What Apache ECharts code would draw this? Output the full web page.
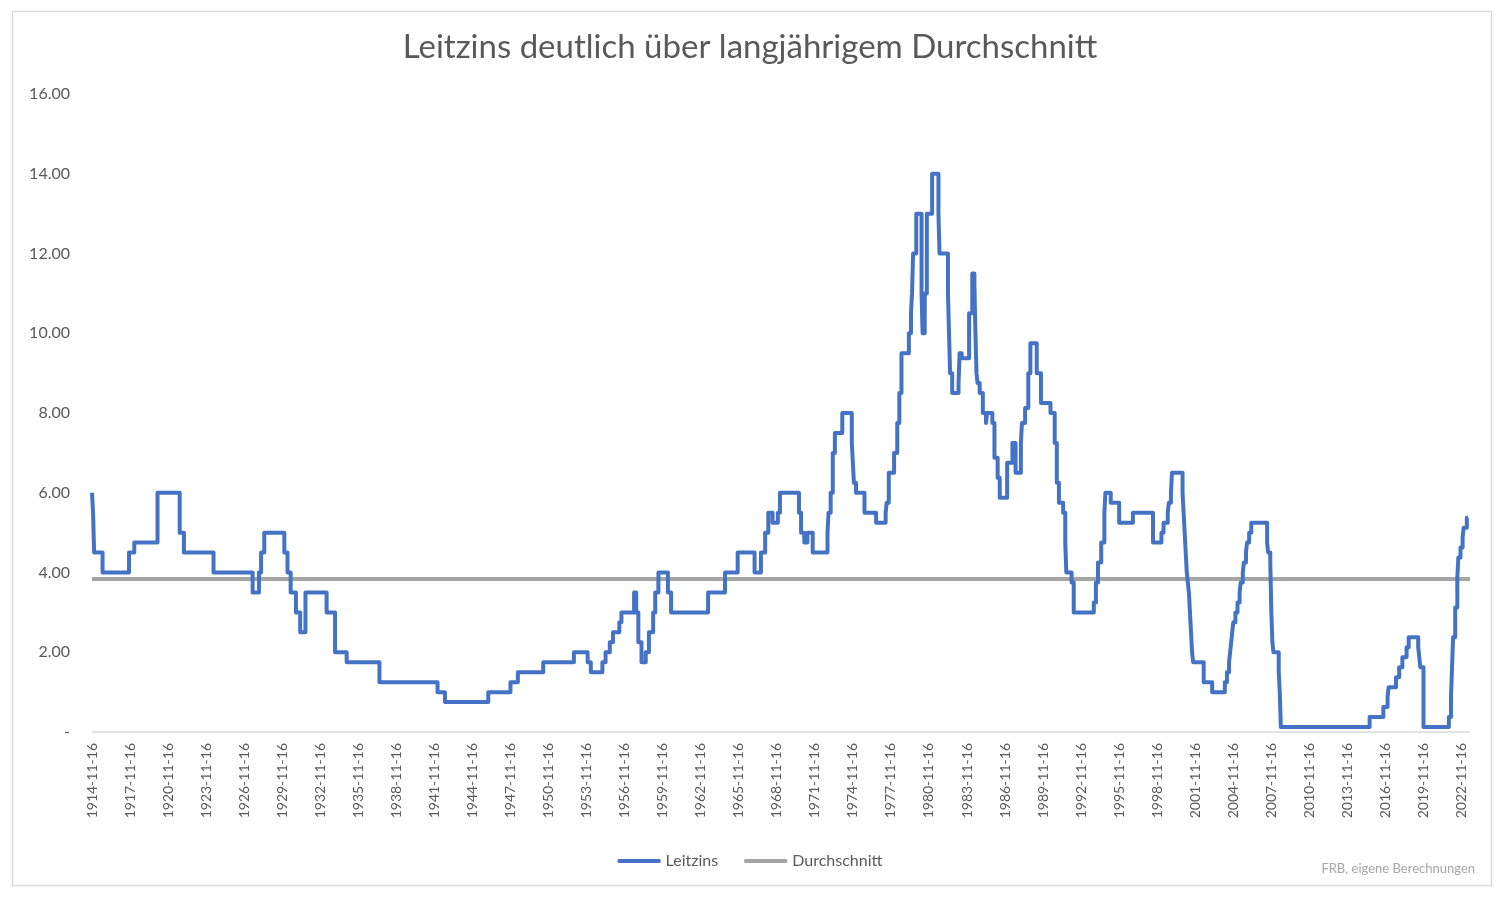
<!DOCTYPE html>
<html lang="de">
<head>
  <meta charset="UTF-8">
  <title>Leitzins</title>
  <script src="https://cdn.jsdelivr.net/npm/echarts@6.0.0/dist/echarts.min.js"></script>
  <style>
    html, body { margin: 0; padding: 0; background: #fff; }
    #chart { width: 1500px; height: 898px; }
  </style>
</head>
<body>
  <div id="chart"></div>
  <script>
    // Zinsänderungen (Monat der Änderung, neuer Satz in %)
    var dates = [
      '1914-11','1914-12','1915-01','1915-09','1917-10','1918-03','1920-01','1921-10','1922-02','1924-06',
      '1927-07','1928-01','1928-03','1928-06','1930-01','1930-04','1930-07','1930-12','1931-04','1931-09',
      '1933-05','1934-01','1934-12','1937-07','1942-02','1942-09','1946-02','1947-11','1948-06','1950-06',
      '1952-11','1953-12','1954-03','1955-02','1955-05','1955-09','1955-12','1956-06','1956-08','1957-08',
      '1957-10','1957-12','1958-03','1958-07','1958-10','1959-02','1959-04','1959-07','1960-04','1960-07',
      '1963-06','1964-10','1965-10','1967-02','1967-08','1967-12','1968-03','1968-07','1968-12','1969-02',
      '1970-08','1970-10','1971-01','1971-04','1971-09','1972-11','1972-12','1973-02','1973-04','1973-06',
      '1974-01','1974-10','1974-11','1974-12','1975-02','1975-10','1976-09','1977-06','1977-07','1977-09',
      '1978-02','1978-05','1978-07','1978-09','1979-04','1979-06','1979-07','1979-08','1979-11','1980-04',
      '1980-05','1980-07','1980-09','1981-02','1981-08','1981-09','1982-05','1982-06','1982-07','1982-09',
      '1983-03','1983-04','1983-06','1984-01','1984-04','1984-06','1984-07','1984-08','1984-09','1984-11',
      '1985-02','1985-05','1985-06','1985-11','1986-01','1986-04','1986-06','1987-01','1987-06','1987-09',
      '1988-02','1988-03','1988-06','1988-09','1988-11','1989-05','1989-09','1990-06','1990-10','1990-12',
      '1991-02','1991-06','1991-08','1991-09','1992-02','1992-04','1993-11','1994-01','1994-03','1994-06',
      '1994-09','1994-10','1995-03','1995-11','1996-12','1998-07','1999-03','1999-05','1999-09','1999-10',
      '1999-12','2000-01','2000-11','2000-12','2001-01','2001-02','2001-03','2001-04','2001-05','2001-06',
      '2001-07','2001-08','2001-09','2002-07','2003-03','2004-03','2004-05','2004-07','2004-08','2004-09',
      '2004-10','2004-11','2005-01','2005-03','2005-05','2005-06','2005-08','2005-09','2005-11','2005-12',
      '2006-02','2006-04','2007-07','2007-08','2007-10','2007-11','2007-12','2008-01','2008-06','2008-07',
      '2008-08','2015-08','2016-09','2017-01','2017-02','2017-09','2017-12','2018-03','2018-07','2018-09',
      '2019-06','2019-07','2019-08','2019-11','2021-11','2022-01','2022-02','2022-03','2022-05','2022-07',
      '2022-08','2022-10','2022-12','2023-01','2023-04','2023-05'
    ];
    var rates = [
      6.0, 5.5, 4.5, 4.0, 4.5, 4.75, 6.0, 5.0, 4.5, 4.0,
      3.5, 4.0, 4.5, 5.0, 4.5, 4.0, 3.5, 3.0, 2.5, 3.5,
      3.0, 2.0, 1.75, 1.25, 1.0, 0.75, 1.0, 1.25, 1.5, 1.75,
      2.0, 1.75, 1.5, 1.75, 2.0, 2.25, 2.5, 2.75, 3.0, 3.5,
      3.0, 2.25, 1.75, 2.0, 2.5, 3.0, 3.5, 4.0, 3.5, 3.0,
      3.5, 4.0, 4.5, 4.0, 4.5, 5.0, 5.5, 5.25, 5.5, 6.0,
      5.5, 5.0, 4.75, 5.0, 4.5, 5.0, 5.5, 6.0, 7.0, 7.5,
      8.0, 7.25, 6.75, 6.25, 6.0, 5.5, 5.25, 5.5, 5.75, 6.5,
      7.0, 7.75, 8.5, 9.5, 10.0, 10.5, 11.0, 12.0, 13.0, 11.0,
      10.0, 11.0, 13.0, 14.0, 13.0, 12.0, 11.0, 10.0, 9.0, 8.5,
      8.75, 9.5, 9.375, 10.5, 11.5, 11.25, 10.0, 9.0, 8.75, 8.5,
      8.0, 7.75, 8.0, 7.75, 6.875, 6.375, 5.875, 6.75, 7.25, 6.5,
      7.25, 7.75, 8.125, 9.0, 9.75, 9.0, 8.25, 8.0, 7.25, 6.25,
      5.75, 5.5, 4.75, 4.0, 3.75, 3.0, 3.25, 3.75, 4.25, 4.75,
      5.5, 6.0, 5.75, 5.25, 5.5, 4.75, 5.0, 5.25, 5.5, 5.75,
      6.0, 6.5, 6.0, 5.5, 5.0, 4.5, 4.0, 3.75, 3.5, 3.0,
      2.5, 2.0, 1.75, 1.25, 1.0, 1.25, 1.5, 1.75, 2.0, 2.25,
      2.5, 2.75, 3.0, 3.25, 3.5, 3.75, 4.0, 4.25, 4.5, 4.75,
      5.0, 5.25, 4.75, 4.5, 4.25, 3.0, 2.25, 2.0, 1.5, 1.0,
      0.125, 0.375, 0.625, 0.875, 1.125, 1.375, 1.625, 1.875, 2.125, 2.375,
      2.125, 1.875, 1.625, 0.125, 0.375, 0.875, 1.625, 2.375, 3.125, 3.875,
      4.375, 4.625, 4.875, 5.125, 5.375, 5.375
    ];
    var durchschnitt = 3.84;
    var yTicks = [0, 2, 4, 6, 8, 10, 12, 14, 16];

    // Monate seit 1914-11 (Achse in Monaten, Beschriftung alle 36 Monate)
    function monthIndex(d) {
      var p = d.split('-');
      return (parseInt(p[0], 10) - 1914) * 12 + (parseInt(p[1], 10) - 11);
    }
    var axisMax = 1304;
    var leitzinsData = dates.map(function (d, i) { return [monthIndex(d), rates[i]]; });
    var avgData = [[0, durchschnitt], [axisMax, durchschnitt]];

    var font = 'Lato, "Open Sans", sans-serif';
    var chart = echarts.init(document.getElementById('chart'));
    chart.setOption({
      animation: false,
      textStyle: { fontFamily: font },
      title: {
        text: 'Leitzins deutlich über langjährigem Durchschnitt',
        left: 'center',
        top: 31,
        padding: 0,
        textStyle: { fontSize: 33, fontWeight: 'normal', color: '#595959', fontFamily: font }
      },
      legend: {
        top: 848,
        left: 'center',
        itemWidth: 43,
        itemHeight: 4,
        itemGap: 26,
        icon: 'roundRect',
        textStyle: { fontSize: 16, color: '#595959', fontFamily: font },
        data: ['Leitzins', 'Durchschnitt']
      },
      grid: { left: 92, right: 30, top: 94, bottom: 166, containLabel: false },
      xAxis: {
        type: 'value',
        min: 0,
        max: axisMax,
        interval: 36,
        axisLine: { show: true, lineStyle: { color: '#d9d9d9', width: 1.5 } },
        axisTick: { show: false },
        splitLine: { show: false },
        axisLabel: {
          rotate: 90,
          margin: 11,
          fontSize: 14,
          color: '#595959',
          showMaxLabel: false,
          formatter: function (v) { return (1914 + v / 12) + '-11-16'; }
        }
      },
      yAxis: {
        type: 'value',
        min: yTicks[0],
        max: yTicks[yTicks.length - 1],
        interval: 2,
        axisLine: { show: false },
        axisTick: { show: false },
        splitLine: { show: false },
        axisLabel: {
          margin: 22,
          fontSize: 16,
          color: '#595959',
          formatter: function (v) { return v === 0 ? '-' : v.toFixed(2); }
        }
      },
      series: [
        {
          name: 'Leitzins',
          type: 'line',
          step: 'end',
          symbol: 'none',
          data: leitzinsData,
          itemStyle: { color: '#4472C4' },
          lineStyle: { color: '#4472C4', width: 4, join: 'round' },
          z: 3
        },
        {
          name: 'Durchschnitt',
          type: 'line',
          symbol: 'none',
          data: avgData,
          itemStyle: { color: '#A5A5A5' },
          lineStyle: { color: '#A5A5A5', width: 4 },
          z: 2
        }
      ],
      graphic: [
        {
          type: 'rect',
          shape: { x: 12.5, y: 11.5, width: 1479, height: 874 },
          style: { fill: 'none', stroke: '#d9d9d9', lineWidth: 1.5 },
          silent: true
        },
        {
          type: 'text',
          right: 25,
          top: 862,
          style: { text: 'FRB, eigene Berechnungen', fontSize: 13, fill: '#a6a6a6', fontFamily: font }
        }
      ]
    });
  </script>
</body>
</html>
